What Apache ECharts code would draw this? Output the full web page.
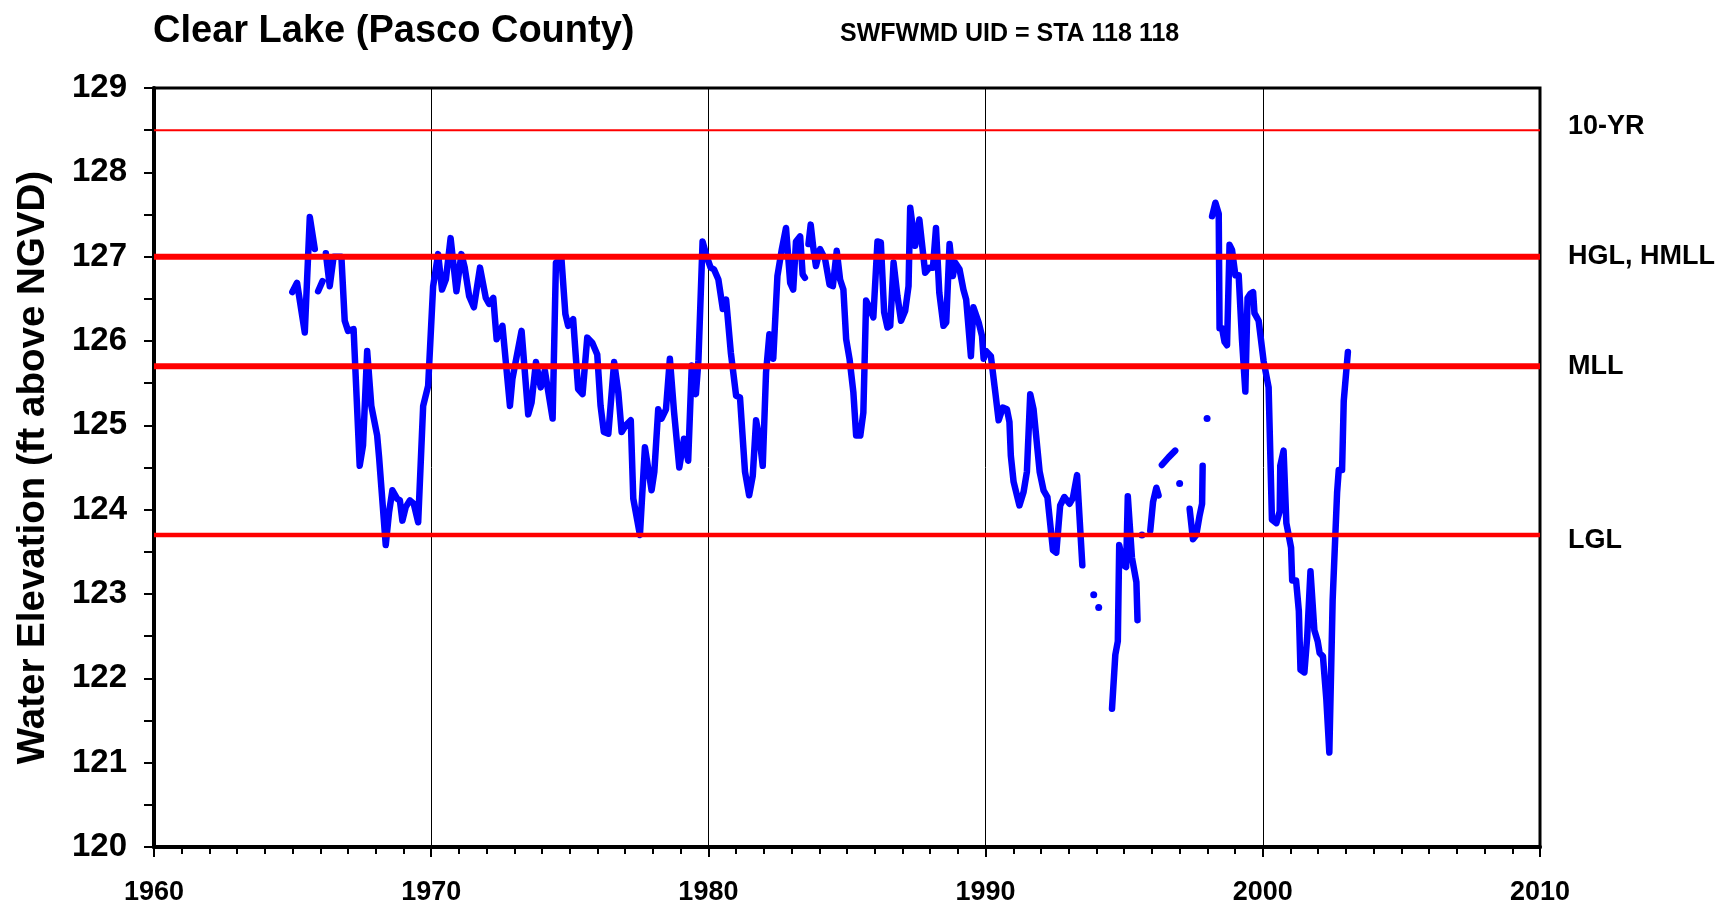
<!DOCTYPE html>
<html>
<head>
<meta charset="utf-8">
<title>Clear Lake (Pasco County)</title>
<script src="https://cdn.jsdelivr.net/npm/echarts@6/dist/echarts.min.js"></script>
<style>
  html, body { margin: 0; padding: 0; background: #fff; }
  #chart { width: 1729px; height: 906px; }
</style>
</head>
<body>
<div id="chart"></div>
<script>
// water level record, decimal year / ft above NGVD (null = gap in record)
var years = [
  1964.99, 1965.16, 1965.44, 1965.62, 1965.80, 1965.86, 1965.92, 1966.08, 1966.14,
  1966.20, 1966.34, 1966.48, 1966.76, 1966.88, 1967.00, 1967.20, 1967.42, 1967.54,
  1967.69, 1967.84, 1968.05, 1968.12, 1968.36, 1968.48, 1968.60, 1968.77, 1968.87,
  1968.96, 1969.08, 1969.23, 1969.37, 1969.53, 1969.71, 1969.89, 1970.07, 1970.25,
  1970.39, 1970.53, 1970.70, 1970.91, 1971.09, 1971.21, 1971.37, 1971.54, 1971.76,
  1971.97, 1972.09, 1972.24, 1972.36, 1972.57, 1972.84, 1972.93, 1973.26, 1973.50,
  1973.62, 1973.78, 1973.95, 1974.10, 1974.38, 1974.50, 1974.70, 1974.84, 1974.94,
  1975.12, 1975.30, 1975.46, 1975.63, 1975.81, 1975.99, 1976.11, 1976.23, 1976.39,
  1976.60, 1976.75, 1976.87, 1977.02, 1977.20, 1977.29, 1977.53, 1977.71, 1977.95,
  1978.05, 1978.19, 1978.31, 1978.47, 1978.61, 1978.76, 1978.95, 1979.12, 1979.27,
  1979.40, 1979.55, 1979.64, 1979.79, 1979.94, 1980.08, 1980.20, 1980.36, 1980.52,
  1980.64, 1980.81, 1981.00, 1981.14, 1981.32, 1981.47, 1981.60, 1981.72, 1981.86,
  1981.96, 1982.08, 1982.20, 1982.34, 1982.49, 1982.65, 1982.80, 1982.95, 1983.06,
  1983.16, 1983.31, 1983.40, 1983.48, 1983.55, 1983.61, 1983.69, 1983.79, 1983.88,
  1984.03, 1984.21, 1984.37, 1984.49, 1984.63, 1984.75, 1984.87, 1984.97, 1985.09,
  1985.23, 1985.33, 1985.48, 1985.59, 1985.69, 1985.83, 1985.95, 1986.10, 1986.22,
  1986.34, 1986.46, 1986.56, 1986.68, 1986.82, 1986.95, 1987.10, 1987.22, 1987.28,
  1987.46, 1987.61, 1987.70, 1987.82, 1987.97, 1988.10, 1988.21, 1988.33, 1988.48,
  1988.58, 1988.70, 1988.82, 1988.90, 1989.06, 1989.20, 1989.30, 1989.47, 1989.56,
  1989.75, 1989.87, 1989.93, 1990.02, 1990.19, 1990.35, 1990.47, 1990.62, 1990.77,
  1990.86, 1990.91, 1991.01, 1991.22, 1991.37, 1991.49, 1991.61, 1991.73, 1991.95,
  1992.09, 1992.23, 1992.43, 1992.55, 1992.69, 1992.84, 1993.03, 1993.15, 1993.30,
  1993.49, 1993.70, 1993.90, 1994.00, 1994.08, 1994.30, 1994.56, 1994.68, 1994.77,
  1994.82, 1994.98, 1995.07, 1995.13, 1995.28, 1995.44, 1995.48, 1995.56, 1995.64,
  1995.80, 1995.94, 1996.04, 1996.16, 1996.24, 1996.30, 1996.36, 1996.60, 1996.84,
  1996.92, 1997.00, 1997.18, 1997.36, 1997.48, 1997.60, 1997.72, 1997.81, 1997.83,
  1997.90, 1997.99, 1998.08, 1998.17, 1998.29, 1998.41, 1998.44, 1998.53, 1998.62,
  1998.71, 1998.80, 1998.89, 1999.01, 1999.13, 1999.25, 1999.37, 1999.45, 1999.55,
  1999.65, 1999.70, 1999.85, 1999.97, 2000.03, 2000.21, 2000.33, 2000.49, 2000.61,
  2000.63, 2000.75, 2000.85, 2001.02, 2001.06, 2001.20, 2001.30, 2001.36, 2001.50,
  2001.60, 2001.72, 2001.86, 2001.98, 2002.05, 2002.17, 2002.29, 2002.40, 2002.52,
  2002.68, 2002.74, 2002.86, 2002.92, 2003.07
];
var levels = [
  126.58, 126.69, 126.10, 127.47, 127.09, null, 126.59, 126.71, null,
  127.04, 126.65, 127.00, 127.00, 126.24, 126.12, 126.14, 124.52, 124.76,
  125.88, 125.23, 124.88, 124.62, 123.58, 123.97, 124.23, 124.13, 124.11,
  123.87, 124.03, 124.11, 124.07, 123.85, 125.23, 125.47, 126.65, 127.03,
  126.61, 126.73, 127.22, 126.59, 127.03, 126.87, 126.53, 126.40, 126.87,
  126.51, 126.44, 126.51, 126.02, 126.18, 125.23, 125.55, 126.12, 125.13,
  125.27, 125.75, 125.45, 125.65, 125.08, 126.93, 126.97, 126.32, 126.18,
  126.26, 125.43, 125.37, 126.04, 125.98, 125.84, 125.23, 124.92, 124.90,
  125.75, 125.39, 124.92, 125.00, 125.06, 124.13, 123.70, 124.74, 124.23,
  124.45, 125.19, 125.08, 125.19, 125.79, 125.16, 124.50, 124.84, 124.58,
  125.71, 125.37, 125.77, 127.18, 127.00, 126.87, 126.85, 126.73, 126.38,
  126.49, 125.86, 125.35, 125.33, 124.45, 124.17, 124.40, 125.06, 124.80,
  124.52, 125.63, 126.08, 125.79, 126.77, 127.09, 127.34, 126.69, 126.61,
  127.18, 127.24, 126.79, 126.75, null, 127.15, 127.38, 127.09, 126.89,
  127.09, 126.97, 126.67, 126.65, 127.07, 126.73, 126.61, 126.02, 125.79,
  125.39, 124.88, 124.88, 125.15, 126.48, 126.38, 126.28, 127.18, 127.17,
  126.34, 126.16, 126.18, 126.93, 126.53, 126.24, 126.36, 126.65, 127.58,
  127.13, 127.44, 127.17, 126.81, 126.87, 126.87, 127.34, 126.57, 126.18,
  126.22, 127.15, 126.77, 126.93, 126.85, 126.61, 126.49, 125.82, 126.40,
  126.22, 126.06, 125.79, 125.88, 125.82, 125.39, 125.06, 125.21, 125.19,
  125.04, 124.64, 124.33, 124.05, 124.21, 124.45, 125.37, 125.19, 124.45,
  124.23, 124.15, 123.52, 123.49, 124.05, 124.15, 124.07, 124.14, 124.41,
  123.34, null, 122.99, null, 122.84, null, 121.64, 122.28, 122.44,
  123.58, 123.34, 123.32, 124.16, 123.43, 123.14, 122.69, null, 123.70,
  null, 123.75, 124.09, 124.26, 124.17, null, 124.53, 124.62, 124.70,
  null, 124.31, null, 124.01, 123.65, 123.70, 123.93, 124.07, 124.52,
  null, 125.08, null, 127.48, 127.64, 127.51, 126.15, 126.15, 125.99,
  125.95, 127.14, 127.08, 126.78, 126.78, 126.01, 125.40, 126.51, 126.56,
  126.58, 126.33, 126.24, 125.92, 125.76, 125.45, 123.88, 123.84, 123.98,
  124.52, 124.70, 123.84, 123.55, 123.16, 123.16, 122.80, 122.10, 122.07,
  122.48, 123.27, 122.57, 122.44, 122.30, 122.26, 121.76, 121.12, 122.93,
  124.20, 124.47, 124.47, 125.29, 125.87
];

// regulatory levels drawn across the plot
var guideNames = ['10-YR', 'HGL, HMLL', 'MLL', 'LGL'];
var guideValues = [128.5, 127.0, 125.7, 123.7];
var guideWidths = [2, 6, 6, 4.5];
var labelShift = [-4, 0, 0, 6];

var xRange = [1960, 2010];
var yRange = [120, 129];

var FONT = '"Liberation Sans", Arial, Helvetica, sans-serif';

var myChart = echarts.init(document.getElementById('chart'));

// build the level series; lone readings between gaps get a dot
var lakeData = [];
for (var i = 0; i < years.length; i++) {
  var v = levels[i];
  if (v === null) {
    lakeData.push([years[i], null]);
    continue;
  }
  var prevGap = i === 0 || levels[i - 1] === null;
  var nextGap = i === levels.length - 1 || levels[i + 1] === null;
  if (prevGap && nextGap) {
    lakeData.push({ value: [years[i], v], symbol: 'circle', symbolSize: 7 });
  } else {
    lakeData.push([years[i], v]);
  }
}

var series = [{
  name: 'Water Elevation',
  type: 'line',
  data: lakeData,
  symbol: 'none',
  connectNulls: false,
  itemStyle: { color: '#0000ff' },
  lineStyle: { color: '#0000ff', width: 6.5, join: 'round', cap: 'round' },
  z: 3,
  silent: true
}];

guideNames.forEach(function (nm, k) {
  series.push({
    name: nm,
    type: 'line',
    data: [[xRange[0], guideValues[k]], [xRange[1], guideValues[k]]],
    symbol: 'none',
    lineStyle: { color: '#ff0000', width: guideWidths[k] },
    endLabel: {
      show: true,
      formatter: nm,
      distance: 28,
      offset: [0, labelShift[k]],
      color: '#000',
      fontFamily: FONT,
      fontWeight: 'bold',
      fontSize: 27
    },
    z: 4,
    silent: true
  });
});

var option = {
  animation: false,
  backgroundColor: '#fff',
  title: [{
    text: 'Clear Lake (Pasco County)',
    left: 153,
    top: 13,
    padding: 0,
    textStyle: { fontFamily: FONT, fontWeight: 'bold', fontSize: 38, color: '#000' }
  }, {
    text: 'SWFWMD UID = STA 118 118',
    left: 840,
    top: 22,
    padding: 0,
    textStyle: { fontFamily: FONT, fontWeight: 'bold', fontSize: 25, color: '#000' }
  }],
  grid: {
    left: 154,
    right: 189,
    top: 88,
    bottom: 57,
    show: true,
    borderColor: '#000',
    borderWidth: 3,
    containLabel: false
  },
  xAxis: {
    type: 'value',
    min: xRange[0],
    max: xRange[1],
    interval: 10,
    axisLine: { lineStyle: { color: '#000', width: 4 } },
    axisTick: { show: true, length: 10, lineStyle: { color: '#000', width: 2 } },
    minorTick: { show: true, splitNumber: 10, length: 7, lineStyle: { color: '#000', width: 2 } },
    splitLine: { show: true, lineStyle: { color: '#000', width: 1 } },
    axisLabel: {
      margin: 32,
      color: '#000',
      fontFamily: FONT,
      fontWeight: 'bold',
      fontSize: 27,
      formatter: function (val) { return String(val); }
    }
  },
  yAxis: {
    type: 'value',
    min: yRange[0],
    max: yRange[1],
    interval: 1,
    name: 'Water Elevation (ft above NGVD)',
    nameLocation: 'middle',
    nameGap: 101,
    nameTextStyle: { fontFamily: FONT, fontWeight: 'bold', fontSize: 38.5, color: '#000' },
    axisLine: { lineStyle: { color: '#000', width: 4 } },
    axisTick: { show: true, length: 10, lineStyle: { color: '#000', width: 2 } },
    minorTick: { show: true, splitNumber: 2, length: 10, lineStyle: { color: '#000', width: 2 } },
    splitLine: { show: false },
    axisLabel: {
      margin: 27,
      color: '#000',
      fontFamily: FONT,
      fontWeight: 'bold',
      fontSize: 33
    }
  },
  series: series
};

myChart.setOption(option);
</script>
</body>
</html>
